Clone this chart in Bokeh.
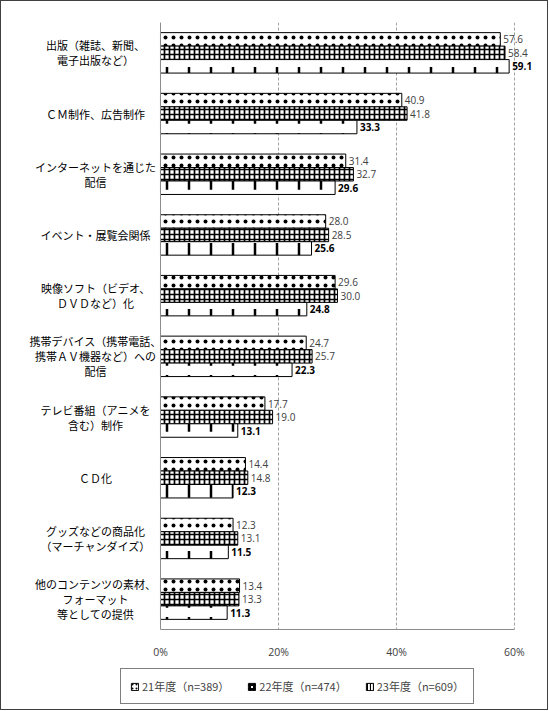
from bokeh.plotting import figure
from bokeh.layouts import column
from bokeh.core.properties import value
from bokeh.models import (ColumnDataSource, Range1d, FixedTicker, Label, LabelSet,
                          Legend, LegendItem, PrintfTickFormatter, Span)
from bokeh.embed import file_html
from bokeh.resources import INLINE

categories = [
    ["出版（雑誌、新聞、", "電子出版など）"],
    ["ＣＭ制作、広告制作"],
    ["インターネットを通じた", "配信"],
    ["イベント・展覧会関係"],
    ["映像ソフト（ビデオ、", "ＤＶＤなど）化"],
    ["携帯デバイス（携帯電話、", "携帯ＡＶ機器など）への", "配信"],
    ["テレビ番組（アニメを", "含む）制作"],
    ["ＣＤ化"],
    ["グッズなどの商品化", "（マーチャンダイズ）"],
    ["他のコンテンツの素材、", "フォーマット", "等としての提供"],
]
series_names = ["21年度（n=389）", "22年度（n=474）", "23年度（n=609）"]
fy21 = [57.6, 40.9, 31.4, 28.0, 29.6, 24.7, 17.7, 14.4, 12.3, 13.4]
fy22 = [58.4, 41.8, 32.7, 28.5, 30.0, 25.7, 19.0, 14.8, 13.1, 13.3]
fy23 = [59.1, 33.3, 29.6, 25.6, 24.8, 22.3, 13.1, 12.3, 11.5, 11.3]
x_ticks = [0, 20, 40, 60]

JP = "Noto Sans CJK JP"
NUM = "Open Sans"

p = figure(width=546, height=660, x_range=Range1d(-26.95, 65.6), y_range=Range1d(10, 0),
           output_backend="svg", toolbar_location=None,
           min_border_left=0, min_border_right=0, min_border_top=21, min_border_bottom=31)
p.outline_line_color = None

bar_h = 0.222
offsets = [-bar_h, 0.0, bar_h]
series = [fy21, fy22, fy23]
hatch_specs = [
    dict(hatch_pattern="dot", hatch_scale=8, hatch_weight=0.9),
    dict(hatch_pattern="cross", hatch_scale=5, hatch_weight=1.7),
    dict(hatch_pattern="vertical_dash", hatch_scale=22, hatch_weight=2.5),
]
legend_hatch = [
    dict(hatch_pattern="dot", hatch_scale=4, hatch_weight=1.2),
    dict(hatch_pattern="cross", hatch_scale=4, hatch_weight=2.0),
    dict(hatch_pattern="vertical_line", hatch_scale=3, hatch_weight=1.2),
]
bar_style = dict(fill_color="white", line_color="black", line_width=1, hatch_color="black")

renderers = []
for s, vals in enumerate(series):
    ys = [k + 0.5 + offsets[s] for k in range(len(vals))]
    src = ColumnDataSource(dict(y=ys, right=vals,
                                txt=["%.1f" % v for v in vals]))
    r = p.hbar(y="y", right="right", left=0, height=bar_h, source=src,
               **bar_style, **hatch_specs[s])
    renderers.append(r)
    ls = LabelSet(x="right", y="y", text="txt", source=src, x_offset=3,
                  text_baseline="middle", text_font=value(NUM),
                  text_font_size=value("10px"),
                  text_color=value("black" if s == 2 else "#404040"),
                  text_font_style=value("bold" if s == 2 else "normal"))
    p.add_layout(ls)

# category labels
for k, lines in enumerate(categories):
    n = len(lines)
    for j, line in enumerate(lines):
        p.add_layout(Label(x=-11.0, y=k + 0.5, y_offset=((n - 1) / 2 - j) * 15,
                           text=line, text_align="center", text_baseline="middle",
                           text_font=JP, text_font_size="11px", text_color="black"))

# axes
p.xaxis.ticker = FixedTicker(ticks=x_ticks)
p.xaxis.bounds = (0, 60)
p.xaxis.formatter = PrintfTickFormatter(format="%d%%")
p.xaxis.major_tick_line_color = None
p.xaxis.minor_tick_line_color = None
p.xaxis.axis_line_color = "#8c8c8c"
p.xaxis.major_label_standoff = 9
p.xaxis.major_label_text_font = NUM
p.xaxis.major_label_text_font_size = "10.5px"
p.xaxis.major_label_text_color = "#404040"
p.yaxis.visible = False

p.xgrid.ticker = FixedTicker(ticks=x_ticks)
p.xgrid.grid_line_color = "#a0a0a0"
p.xgrid.grid_line_dash = "3 2"
p.ygrid.visible = False
p.add_layout(Span(location=0, dimension="height", line_color="#8c8c8c", line_width=1))

# legend panel (separate strip below the chart)
lp = figure(width=546, height=48, x_range=Range1d(0, 1), y_range=Range1d(0, 1),
            output_backend="svg", toolbar_location=None,
            min_border_left=0, min_border_right=0, min_border_top=0, min_border_bottom=0)
lp.axis.visible = False
lp.grid.visible = False
lp.outline_line_color = None
dummy = []
for s in range(3):
    d = lp.hbar(y=[50], right=[61], left=60, height=0.1, **bar_style, **legend_hatch[s])
    dummy.append(d)
legend = Legend(items=[LegendItem(label=series_names[i], renderers=[dummy[i]]) for i in range(3)],
                orientation="horizontal", location=(119, 5),
                label_text_font=JP, label_text_font_size="11px",
                glyph_width=9, glyph_height=9, label_standoff=3, spacing=18,
                padding=9, border_line_color="black", border_line_width=1,
                background_fill_color="white", background_fill_alpha=1, margin=0)
lp.add_layout(legend, "center")

layout = column(p, lp, spacing=0, styles={"border": "1px solid #404040"})

open("out.html", "w").write(file_html(layout, INLINE))
